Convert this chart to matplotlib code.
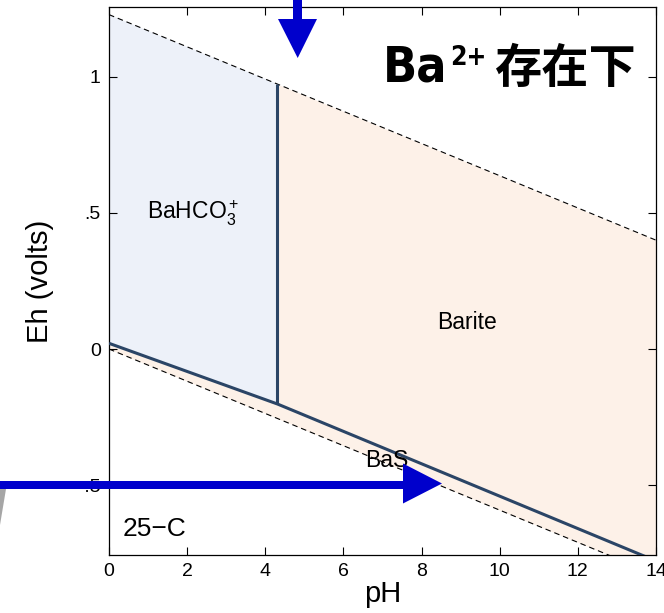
import matplotlib
matplotlib.use("Agg")
import matplotlib.pyplot as plt
from matplotlib import font_manager
from matplotlib.font_manager import FontProperties
from matplotlib.patches import Polygon
from matplotlib.ticker import FixedLocator, FixedFormatter

plt.rcParams['font.family'] = ['Liberation Sans', 'DejaVu Sans']
plt.rcParams['mathtext.fontset'] = 'custom'
plt.rcParams['mathtext.rm'] = 'Liberation Sans'
plt.rcParams['mathtext.it'] = 'Liberation Sans'
plt.rcParams['mathtext.bf'] = 'Liberation Sans:bold'

# Water stability limits (upper: O2/H2O, lower: H2O/H2)
ph_water = [0, 14]
eh_o2 = [1.229, 0.400]
eh_h2 = [0.0, -0.829]

# Sulfate / sulfide boundary (kinked at the BaHCO3+ / Barite boundary)
ph_sulf = [0, 4.31, 14]
eh_sulf = [0.021, -0.202, -0.779]

# BaHCO3+ / Barite vertical boundary
ph_vert = [4.31, 4.31]
eh_vert = [-0.202, 0.974]

x_ticks = [0, 2, 4, 6, 8, 10, 12, 14]
y_ticks = [-0.5, 0, 0.5, 1]
y_tick_labels = ['\u2212.5', '0', '.5', '1']

field_labels = ['BaHCO$_3^+$', 'Barite', 'BaS']
field_pos = [(2.15, 0.50), (9.17, 0.096), (7.12, -0.41)]


def narrow_font(size):
    """Pick a condensed sans face for the heading if one is installed."""
    prefs = []
    for f in font_manager.fontManager.ttflist:
        fn = f.fname.lower()
        score = None
        if 'liberationsansnarrow-bold.' in fn.replace(' ', ''):
            score = 0
        elif 'dejavusanscondensed-bold.' in fn:
            score = 1
        elif 'robotocondensed-bold' in fn:
            score = 2
        elif 'opensans-condensedbold' in fn or 'opensans_condensed-bold' in fn:
            score = 3
        if score is not None:
            prefs.append((score, f.fname))
    if prefs:
        prefs.sort()
        return FontProperties(fname=prefs[0][1], size=size)
    return FontProperties(family='Noto Sans CJK JP', weight='bold', size=size * 0.9)


W, H = 664, 613
fig = plt.figure(figsize=(W / 100, H / 100), dpi=100)
ax = fig.add_axes([109 / W, 1 - 555 / H, 547 / W, 548 / H])

blue_fill = '#edf1f9'
peach_fill = '#fdf1e8'
line_col = '#2b4566'

# Stability field fills
ax.fill_between(ph_water, eh_h2, eh_o2, color=peach_fill, lw=0, zorder=1)
bahco3_x = [ph_water[0], ph_vert[1], ph_vert[0], ph_sulf[0]]
bahco3_y = [eh_o2[0], eh_vert[1], eh_vert[0], eh_sulf[0]]
ax.fill(bahco3_x, bahco3_y, color=blue_fill, lw=0, zorder=1)

# Water limits
ax.plot(ph_water, eh_o2, color='black', lw=0.8, ls=(0, (5, 3.5)), zorder=3)
ax.plot(ph_water, eh_h2, color='black', lw=0.8, ls=(0, (5, 3.5)), zorder=3)

# Field boundaries
ax.plot(ph_sulf, eh_sulf, color=line_col, lw=2.2, zorder=4, solid_capstyle='butt')
ax.plot(ph_vert, eh_vert, color=line_col, lw=2.2, zorder=4, solid_capstyle='butt')

ax.set_xlim(0, 14)
ax.set_ylim(-0.757, 1.257)

ax.xaxis.set_major_locator(FixedLocator(x_ticks))
ax.yaxis.set_major_locator(FixedLocator(y_ticks))
ax.yaxis.set_major_formatter(FixedFormatter(y_tick_labels))
ax.tick_params(direction='in', length=5.5, width=0.8, top=True, right=True,
               labelsize=14, pad=6, colors='black')
for s in ax.spines.values():
    s.set_linewidth(0.9)
    s.set_color('black')

ax.set_xlabel('pH', fontsize=21, labelpad=0)
ax.set_ylabel('Eh (volts)', fontsize=21, labelpad=14)

for lab, (x, y) in zip(field_labels, field_pos):
    ax.text(x, y, lab, fontsize=16.5, ha='center', va='center', zorder=5)
ax.text(0.36, -0.662, '25\u2212C', fontsize=19, ha='left', va='center', zorder=5)

# Overlay in pixel coordinates for the callout arrows and heading
ov = fig.add_axes([0, 0, 1, 1], facecolor='none')
ov.set_xlim(0, W)
ov.set_ylim(H, 0)
ov.axis('off')

arrow_col = '#0000cc'
ov.add_patch(Polygon([(293, -2), (302, -2), (302, 20), (293, 20)], closed=True,
                     color=arrow_col, lw=0))
ov.add_patch(Polygon([(278, 19), (317, 19), (297.7, 58)], closed=True,
                     color=arrow_col, lw=0))
ov.add_patch(Polygon([(-2, 480.5), (404, 480.5), (404, 488.5), (-2, 488.5)],
                     closed=True, color=arrow_col, lw=0))
ov.add_patch(Polygon([(403, 463.5), (403, 503.5), (442, 483.5)], closed=True,
                     color=arrow_col, lw=0))
ov.add_patch(Polygon([(-1, 489), (6, 489), (-1, 531)], closed=True,
                     color='#a6a6a6', lw=0))

# Heading: Ba2+ 存在下
ov.text(447, 82, 'Ba', fontproperties=narrow_font(36),
        ha='right', va='baseline', color='black')
ov.text(450, 65, '2+', fontproperties=narrow_font(19),
        ha='left', va='baseline', color='black')
ov.text(494, 83, '存在下', fontsize=34, family=['Noto Sans CJK JP'], fontweight='bold',
        ha='left', va='baseline', color='black')

fig.savefig('out.png', dpi=100)
